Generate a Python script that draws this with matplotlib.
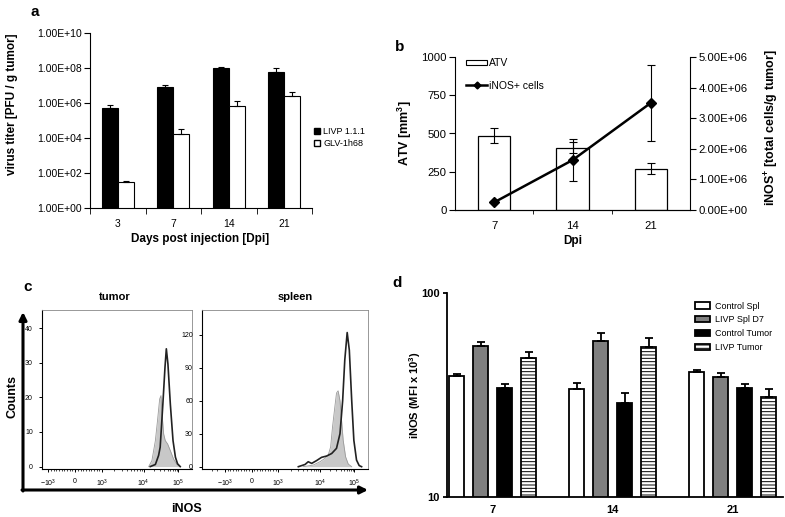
import numpy as np
import matplotlib
matplotlib.use('Agg')
import matplotlib.pyplot as plt
from matplotlib.patches import Patch
from matplotlib.lines import Line2D
from matplotlib.ticker import NullLocator

plt.rcParams['font.family'] = ['Liberation Sans', 'DejaVu Sans']
plt.rcParams['mathtext.fontset'] = 'custom'
plt.rcParams['mathtext.rm'] = 'Liberation Sans'
plt.rcParams['mathtext.bf'] = 'Liberation Sans:bold'
plt.rcParams['mathtext.it'] = 'Liberation Sans:italic'
plt.rcParams['hatch.linewidth'] = 0.7

# ---- panel a: virus titer
days_a = ['3', '7', '14', '21']
livp = [5.2e5, 7.9e6, 1.0e8, 5.6e7]
livp_err = [2.2e5, 3.1e6, 1.5e7, 4.9e7]
glv = [29, 1.6e4, 7.0e5, 2.5e6]
glv_err = [7, 1.7e4, 6.0e5, 1.5e6]

# ---- panel b: tumor volume + iNOS+ cells
days_b = ['7', '14', '21']
atv = [485, 407, 270]
atv_err = [49, 35, 35]
inos_cells = [0.25e6, 1.63e6, 3.5e6]
inos_cells_err = [0, 0.68e6, 1.25e6]

# ---- panel c: flow histograms (x in display channel units)
tumor_ctrl_u = [2.75, 2.87, 3.0, 3.08, 3.16, 3.21, 3.26, 3.31, 3.37, 3.46, 3.56, 3.68, 3.81, 3.93]
tumor_ctrl_n = [0, 1.7, 7.5, 13.3, 19.5, 20.5, 14.2, 9.4, 7.5, 6.5, 4.6, 2.2, 0.6, 0]
tumor_livp_u = [2.81, 3.0, 3.12, 3.18, 3.28, 3.36, 3.41, 3.47, 3.56, 3.66, 3.75, 3.83, 3.93]
tumor_livp_n = [0, 0.6, 3.2, 5.6, 18, 28.7, 34, 29.6, 18, 7.5, 2.7, 0.8, 0]
spleen_ctrl_u = [1.93, 2.31, 2.56, 2.75, 2.87, 2.96, 3.03, 3.12, 3.18, 3.24, 3.31, 3.37, 3.43, 3.52, 3.62, 3.75]
spleen_ctrl_n = [0, 1.5, 4.5, 7.6, 10.6, 18, 36, 55, 67, 69, 60, 42, 24, 9, 2.4, 0]
spleen_livp_u = [1.75, 2.0, 2.12, 2.25, 2.43, 2.62, 2.81, 3.0, 3.18, 3.31, 3.41, 3.49, 3.58, 3.66, 3.75, 3.83, 3.93, 4.03, 4.12]
spleen_livp_n = [0, 2, 4.5, 3, 5.5, 8.5, 9.7, 12, 16.7, 30, 60, 97, 122, 106, 60, 24, 6, 1, 0]
flow_tick_labels = [r'$-10^3$', '0', r'$10^3$', r'$10^4$', r'$10^5$']

# ---- panel d: iNOS MFI
days_d = ['7', '14', '21']
groups_d = ['Control Spl', 'LIVP Spl D7', 'Control Tumor', 'LIVP Tumor']
mfi = [
    [39.0, 34.0, 41.0],
    [55.0, 58.2, 38.7],
    [34.2, 28.9, 34.4],
    [47.9, 54.3, 30.9],
]
mfi_err = [
    [1.0, 2.2, 1.1],
    [2.5, 5.2, 2.0],
    [1.8, 3.5, 1.5],
    [3.5, 5.8, 2.9],
]

W, H = 785, 517
fig = plt.figure(figsize=(W / 100, H / 100), dpi=100)


def px_axes(l, t, r, b):
    return fig.add_axes([l / W, 1 - b / H, (r - l) / W, (b - t) / H])


def fpos(x, y):
    return x / W, 1 - y / H


# ================= a
ax = px_axes(90, 33, 312, 208)
xa = np.arange(len(days_a))
bw = 0.29
ax.bar(xa - bw, livp, bw, align='edge', color='black', edgecolor='black', lw=0.8)
ax.bar(xa, glv, bw, align='edge', color='white', edgecolor='black', lw=0.8)
ax.errorbar(xa - bw / 2, livp, yerr=[np.zeros(4), livp_err], fmt='none', ecolor='black',
            elinewidth=0.8, capsize=2.5, capthick=0.8)
ax.errorbar(xa + bw / 2, glv, yerr=[np.zeros(4), glv_err], fmt='none', ecolor='black',
            elinewidth=0.8, capsize=2.5, capthick=0.8)
ax.set_yscale('log')
ax.set_ylim(1, 1e10)
ax.set_yticks([10.0 ** k for k in range(0, 11, 2)])
ax.set_yticklabels(['1.00E+%02d' % k for k in range(0, 11, 2)], fontsize=7.5)
ax.yaxis.set_minor_locator(NullLocator())
ax.set_xlim(-0.5, 3.5)
ax.set_xticks(xa)
ax.set_xticklabels(days_a, fontsize=7.5)
ax.set_xticks(np.arange(-0.5, 4, 1), minor=True)
ax.tick_params(axis='x', which='major', length=0, pad=8)
ax.tick_params(axis='x', which='minor', length=4)
ax.tick_params(axis='y', length=4, pad=2)
for s in ['top', 'right']:
    ax.spines[s].set_visible(False)
ax.set_ylabel('virus titer [PFU / g tumor]', fontsize=8.5, fontweight='bold')
ax.yaxis.set_label_coords(*fpos(12, 104), transform=fig.transFigure)
ax.set_xlabel('Days post injection [Dpi]', fontsize=8.5, fontweight='bold')
ax.xaxis.set_label_coords(*fpos(200, 239), transform=fig.transFigure)
ax.xaxis.label.set_va('center')
ax.yaxis.label.set_va('center')
ha = [Line2D([], [], ls='none', marker='s', ms=4.5, mfc='black', mec='black'),
      Line2D([], [], ls='none', marker='s', ms=4.5, mfc='white', mec='black')]
ax.legend(ha, ['LIVP 1.1.1', 'GLV-1h68'], loc='center left', bbox_to_anchor=fpos(309, 137.5),
          bbox_transform=fig.transFigure, frameon=False, fontsize=6.5, handlelength=0.8,
          handletextpad=0.3, labelspacing=0.35, borderpad=0)

# ================= b
axb = px_axes(455, 57, 690, 210)
xb = np.arange(len(days_b)) + 0.5
axb.bar(xb, atv, 0.41, color='white', edgecolor='black', lw=0.9, yerr=atv_err, capsize=3,
        error_kw=dict(elinewidth=0.8, capthick=0.8, ecolor='black'))
axb.set_xlim(0, 3)
axb.set_ylim(0, 1000)
axb.set_yticks([0, 250, 500, 750, 1000])
axb.set_xticks(xb)
axb.set_xticklabels(days_b)
axb.set_xticks([1, 2], minor=True)
axb.tick_params(axis='x', which='major', length=0, pad=8, labelsize=8.2)
axb.tick_params(axis='x', which='minor', length=3)
axb.tick_params(axis='y', length=4, labelsize=8.2, pad=2)
axb.spines['top'].set_visible(False)
axb.spines['right'].set_visible(False)
axb2 = axb.twinx()
axb2.errorbar(xb, inos_cells, yerr=inos_cells_err, color='black', marker='D', ms=5, lw=1.8,
              elinewidth=0.8, capsize=3, capthick=0.8)
axb2.set_ylim(0, 5e6)
axb2.set_yticks(np.arange(0, 5.1e6, 1e6))
axb2.set_yticklabels(['%.2fE+06' % (v / 1e6) if v else '0.00E+00' for v in np.arange(0, 5.1e6, 1e6)])
axb2.tick_params(axis='y', length=4, labelsize=8.2, pad=2)
axb2.spines['top'].set_visible(False)
axb2.spines['left'].set_visible(False)
axb.set_ylabel(r'ATV [mm$^{\mathbf{3}}$]', fontsize=9, fontweight='bold')
axb.yaxis.set_label_coords(*fpos(405, 133), transform=fig.transFigure)
axb.yaxis.label.set_va('center')
axb2.set_ylabel(r'iNOS$^{\mathbf{+}}$ [total cells/g tumor]', fontsize=9, fontweight='bold')
axb2.yaxis.set_label_coords(*fpos(772, 128), transform=fig.transFigure)
axb2.yaxis.label.set_va('center')
axb.set_xlabel('Dpi', fontsize=8.5, fontweight='bold')
axb.xaxis.set_label_coords(*fpos(573, 241), transform=fig.transFigure)
axb.xaxis.label.set_va('center')
hb = [Patch(facecolor='white', edgecolor='black', lw=0.8),
      Line2D([], [], color='black', marker='D', ms=3.5, lw=1.8)]
axb2.legend(hb, ['ATV', 'iNOS+ cells'], loc='upper left', bbox_to_anchor=fpos(461, 53),
            bbox_transform=fig.transFigure, frameon=False, fontsize=7.5, handlelength=2.0,
            handleheight=0.5, handletextpad=0.2, labelspacing=1.2, borderpad=0)

# ================= c
flow_ticks = [-1, 0, 1, 2.56, 3.85]
minor_u = list(np.arange(-0.9, 1.0, 0.1)) + \
    [1 + 1.56 * np.log10(m) for m in range(2, 10)] + \
    [2.56 + 1.29 * np.log10(m) for m in range(2, 10)] + \
    [-1 - 1.0 * np.log10(m) for m in range(2, 4)]


def flow_axes(ax, ctrl_u, ctrl_n, livp_u, livp_n, yticks):
    ax.fill_between(ctrl_u, ctrl_n, color='#c8c8c8', lw=0)
    ax.plot(ctrl_u, ctrl_n, color='#9a9a9a', lw=0.6)
    ax.plot(livp_u, livp_n, color='#222222', lw=1.2)
    ax.set_xticks(flow_ticks)
    ax.set_xticklabels(flow_tick_labels, fontsize=5)
    ax.set_xticks(minor_u, minor=True)
    ax.set_yticks(yticks)
    ax.set_yticklabels([str(v) for v in yticks], fontsize=5)
    ax.tick_params(axis='both', which='major', length=2.5, width=0.7, pad=4)
    ax.tick_params(axis='x', which='minor', length=1.5, width=0.5)
    for s in ['top', 'right']:
        ax.spines[s].set_color('#888888')
        ax.spines[s].set_linewidth(0.6)
    for s in ['left', 'bottom']:
        ax.spines[s].set_linewidth(0.8)


axt = px_axes(42, 310, 192, 469)
flow_axes(axt, tumor_ctrl_u, tumor_ctrl_n, tumor_livp_u, tumor_livp_n, [0, 10, 20, 30, 40])
axt.set_xlim(-1.24, 4.37)
axt.set_ylim(-0.7, 45.2)
axs = px_axes(202, 310, 368, 469)
flow_axes(axs, spleen_ctrl_u, spleen_ctrl_n, spleen_livp_u, spleen_livp_n, [0, 30, 60, 90, 120])
axs.set_xlim(-1.86, 4.36)
axs.set_ylim(-2.1, 142.5)

fig.text(*fpos(115, 297), 'tumor', fontsize=8, fontweight='bold', ha='center', va='center')
fig.text(*fpos(295, 297), 'spleen', fontsize=8, fontweight='bold', ha='center', va='center')
fig.text(*fpos(12, 397), 'Counts', fontsize=9, fontweight='bold', ha='center', va='center', rotation=90)
fig.text(*fpos(187, 509), 'iNOS', fontsize=9, fontweight='bold', ha='center', va='center')
arrow = dict(arrowstyle='-|>', lw=2.2, color='black', mutation_scale=11, shrinkA=0, shrinkB=0)
fig.add_artist(matplotlib.patches.FancyArrowPatch(fpos(23, 491), fpos(23, 312), transform=fig.transFigure, **arrow))
fig.add_artist(matplotlib.patches.FancyArrowPatch(fpos(22, 490), fpos(368, 490), transform=fig.transFigure, **arrow))

# ================= d
axd = px_axes(447, 293, 783, 497)
xd = np.arange(len(days_d))
offsets = [-0.3, -0.1, 0.1, 0.3]
styles = [dict(color='white'), dict(color='#7f7f7f'), dict(color='black'), dict(color='white', hatch='-----')]
for i in range(len(groups_d)):
    axd.bar(xd + offsets[i], mfi[i], 0.125, edgecolor='black', lw=1.3, label=groups_d[i], **styles[i])
    axd.errorbar(xd + offsets[i], mfi[i], yerr=[np.zeros(3), mfi_err[i]], fmt='none', ecolor='black',
                 elinewidth=1.3, capsize=3, capthick=1.3)
axd.set_yscale('log')
axd.set_ylim(10, 100)
axd.set_yticks([10, 100])
axd.set_yticklabels(['10', '100'], fontsize=8, fontweight='bold')
axd.yaxis.set_minor_locator(NullLocator())
axd.set_xlim(-0.38, 2.42)
axd.set_xticks(xd)
axd.set_xticklabels(days_d, fontsize=8, fontweight='bold')
axd.tick_params(axis='x', length=0, pad=6)
axd.tick_params(axis='y', length=3, width=1.3, pad=2)
for s in ['top', 'right']:
    axd.spines[s].set_visible(False)
for s in ['left', 'bottom']:
    axd.spines[s].set_linewidth(1.3)
axd.set_ylabel(r'iNOS (MFI x 10$^{\mathbf{3}}$)', fontsize=8, fontweight='bold')
axd.yaxis.set_label_coords(*fpos(415, 395), transform=fig.transFigure)
axd.yaxis.label.set_va('center')
axd.legend(loc='upper left', bbox_to_anchor=fpos(690, 297), bbox_transform=fig.transFigure,
           frameon=False, fontsize=6.5, handlelength=1.7, handleheight=0.7, handletextpad=0.6,
           labelspacing=0.55, borderpad=0)

for letter, (x, y) in zip('abcd', [(35, 12), (400, 47), (28, 287), (397, 283)]):
    fig.text(*fpos(x, y), letter, fontsize=11, fontweight='bold', ha='center', va='center')

fig.savefig('out.png', dpi=100)
